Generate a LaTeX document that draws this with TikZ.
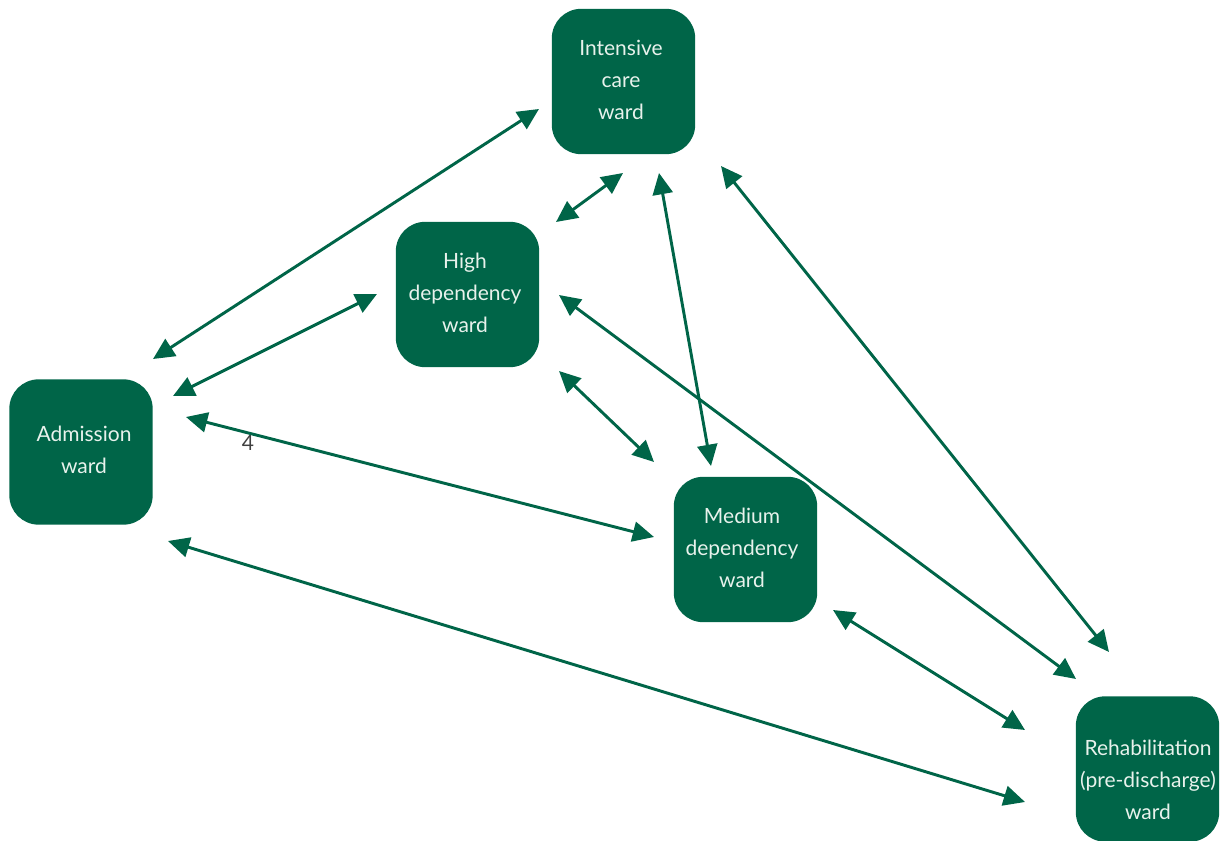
\documentclass[tikz,border=0pt]{standalone}
\usepackage{fontspec}
\setmainfont{Lato}
\usetikzlibrary{arrows.meta}
\definecolor{ward}{RGB}{0,101,72}
\definecolor{wardtext}{RGB}{232,242,236}
\definecolor{notegray}{RGB}{64,64,64}
\begin{document}
\begin{tikzpicture}[x=0.75pt,y=-0.75pt,
  wardbox/.style={fill=ward, draw=none, rounded corners=22pt, minimum width=107.5pt, minimum height=109pt, inner sep=0pt},
  wardtxt/.style={text=wardtext, align=center, font=\fontsize{15.75}{24}\selectfont, inner sep=0pt},
  link/.style={draw=ward, line width=2.2pt, {Triangle[length=16pt,width=15pt]}-{Triangle[length=16pt,width=15pt]}}]
\useasboundingbox (0,0) rectangle (1220,841);

% boxes
\node[wardbox] (icu) at (623.5,81.5) {};
\node[wardtxt] (icut) at (621,80) {Intensive\\care\\ward};
\node[wardbox] (hdu) at (467.5,294.5) {};
\node[wardtxt] (hdut) at (465,293) {High\\dependency\\ward};
\node[wardbox] (adm) at (81,452) {};
\node[wardtxt] (admt) at (84,450) {Admission\\ward};
\node[wardbox] (mdu) at (745.5,549.5) {};
\node[wardtxt] (mdut) at (742,548) {Medium\\dependency\\ward};
\node[wardbox] (reh) at (1147.5,769) {};
\node[wardtxt] (reht) at (1148,780) {Rehabilitation\\(pre-discharge)\\ward};

\node[text=notegray, font=\fontsize{15.75}{18}\selectfont, inner sep=0pt] (note) at (248,443) {4};

% connector ends
\coordinate (adm-icu) at (153,359);  \coordinate (icu-adm) at (539,109);
\coordinate (adm-hdu) at (173,396);  \coordinate (hdu-adm) at (377,294);
\coordinate (adm-mdu) at (186,417);  \coordinate (mdu-adm) at (654,537);
\coordinate (adm-reh) at (168,541);  \coordinate (reh-adm) at (1025,802);
\coordinate (hdu-icu) at (556,222);  \coordinate (icu-hdu) at (623,173);
\coordinate (icu-mdu) at (659,173);  \coordinate (mdu-icu) at (711,466);
\coordinate (icu-reh) at (721,166);  \coordinate (reh-icu) at (1109,652);
\coordinate (hdu-mdu) at (559,371);  \coordinate (mdu-hdu) at (654,462);
\coordinate (hdu-reh) at (559,295);  \coordinate (reh-hdu) at (1076,679);
\coordinate (mdu-reh) at (833,610);  \coordinate (reh-mdu) at (1025,730);

% connectors
\draw[link] (adm-icu) -- (icu-adm);
\draw[link] (adm-hdu) -- (hdu-adm);
\draw[link] (adm-mdu) -- (mdu-adm);
\draw[link] (adm-reh) -- (reh-adm);
\draw[link] (hdu-icu) -- (icu-hdu);
\draw[link] (icu-mdu) -- (mdu-icu);
\draw[link] (icu-reh) -- (reh-icu);
\draw[link] (hdu-mdu) -- (mdu-hdu);
\draw[link] (hdu-reh) -- (reh-hdu);
\draw[link] (mdu-reh) -- (reh-mdu);
\end{tikzpicture}
\end{document}
